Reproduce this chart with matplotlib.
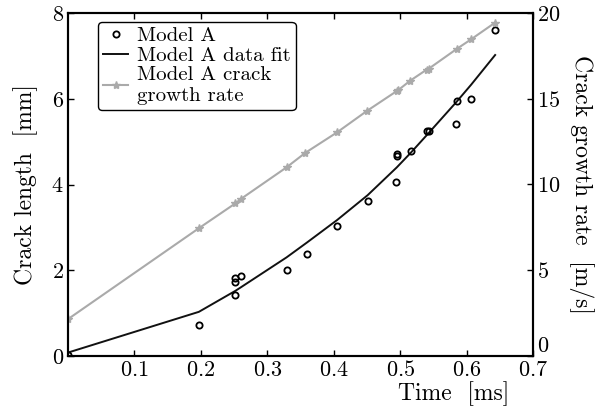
import numpy as np
import matplotlib
matplotlib.use('Agg')
import matplotlib.pyplot as plt

plt.rcParams['font.family'] = 'serif'
plt.rcParams['font.serif'] = ['cmr10', 'DejaVu Serif']
plt.rcParams['mathtext.fontset'] = 'cm'
plt.rcParams['axes.formatter.use_mathtext'] = True

# measured crack length [mm]
t_data = [0.0, 0.197, 0.252, 0.252, 0.252, 0.26, 0.329, 0.36, 0.405, 0.451,
          0.494, 0.495, 0.495, 0.516, 0.54, 0.544, 0.584, 0.585, 0.607, 0.643]
len_data = [0.02, 0.73, 1.42, 1.73, 1.81, 1.86, 2.0, 2.39, 3.04, 3.62,
            4.06, 4.67, 4.71, 4.77, 5.24, 5.24, 5.41, 5.95, 5.99, 7.61]

# fitted crack length [mm]
t_fit = [0.0, 0.197, 0.252, 0.26, 0.329, 0.36, 0.405, 0.451, 0.495, 0.516,
         0.54, 0.585, 0.607, 0.643]
len_fit = [0.08, 1.03, 1.52, 1.6, 2.3, 2.65, 3.17, 3.75, 4.4, 4.74,
           5.15, 5.93, 6.33, 7.02]

# crack growth rate [m/s]
t_rate = [0.0, 0.197, 0.252, 0.26, 0.329, 0.357, 0.405, 0.45, 0.495, 0.497,
          0.515, 0.54, 0.543, 0.585, 0.607, 0.643]
rate = [2.15, 7.45, 8.9, 9.15, 11.0, 11.84, 13.04, 14.29, 15.45, 15.5,
        16.05, 16.7, 16.75, 17.9, 18.47, 19.44]

fig = plt.figure(figsize=(5.96, 4.09), dpi=100)
ax = fig.add_axes([68/596, 1-356/409, 465/596, 343/409])
ax2 = ax.twinx()

h1, = ax.plot(t_data, len_data, 'o', mfc='none', mec='black', mew=1.3, ms=4.5,
              label='Model A', zorder=3)
h2, = ax.plot(t_fit, len_fit, '-', color='#111111', lw=1.4, label='Model A data fit')
h3, = ax2.plot(t_rate, rate, '-*', color='#aaaaaa', lw=1.5, ms=6,
               label='Model A crack\ngrowth rate')

ax.set_xlim(0, 0.7)
ax.set_ylim(0, 8)
ax2.set_ylim(0, 20)
ax.set_xticks([0.1, 0.2, 0.3, 0.4, 0.5, 0.6, 0.7])
ax.set_yticks([0, 2, 4, 6, 8])
ax2.set_yticks([0, 5, 10, 15, 20])

ax.tick_params(direction='in', top=True, labelsize=16, length=4, width=1, pad=3)
ax2.tick_params(direction='in', labelsize=16, length=4, width=1, pad=3)
# lift the right-hand zero so it clears 0.7
ax2.get_yticklabels()[0].set_verticalalignment('bottom')
for a in (ax, ax2):
    for s in a.spines.values():
        s.set_linewidth(1.5)

ax.set_xlabel('Time  [ms]', fontsize=17, labelpad=0)
ax.xaxis.set_label_coords(0.83, -0.075)
ax.set_ylabel('Crack length  [mm]', fontsize=17, labelpad=10)
ax2.set_ylabel('Crack growth rate  [m/s]', fontsize=17, rotation=270, labelpad=24)

leg = ax.legend(handles=[h1, h2, h3], loc='upper left', bbox_to_anchor=(0.065, 0.975),
                fontsize=15, frameon=True, fancybox=True, edgecolor='black',
                framealpha=1, handlelength=1.2, handletextpad=0.4,
                borderpad=0.25, labelspacing=0.05, borderaxespad=0)
leg.get_frame().set_linewidth(1.0)

fig.savefig('out.png', dpi=100)
